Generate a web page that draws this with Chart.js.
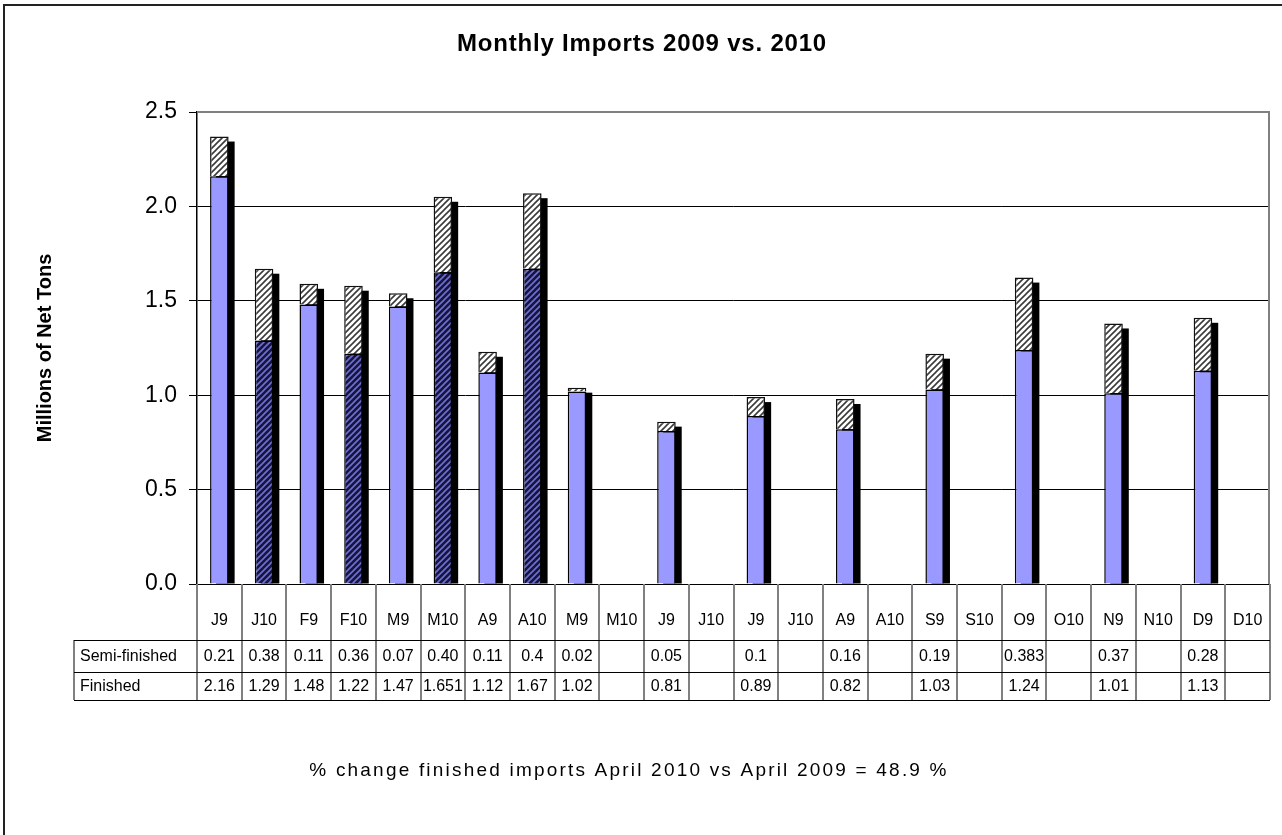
<!DOCTYPE html>
<html>
<head>
<meta charset="utf-8">
<script src="https://cdn.jsdelivr.net/npm/chart.js@4.4.0/dist/chart.umd.min.js"></script>
<style>
html, body { margin: 0; padding: 0; background: #fff; }
canvas { display: block; }
</style>
</head>
<body>
<canvas id="chart" width="1282" height="835"></canvas>
<script>
// chart data
var categories = ['J9', 'J10', 'F9', 'F10', 'M9', 'M10', 'A9', 'A10', 'M9', 'M10', 'J9', 'J10',
                  'J9', 'J10', 'A9', 'A10', 'S9', 'S10', 'O9', 'O10', 'N9', 'N10', 'D9', 'D10'];
var semiFinished = [0.21, 0.38, 0.11, 0.36, 0.07, 0.40, 0.11, 0.4, 0.02, null, 0.05, null,
                    0.1, null, 0.16, null, 0.19, null, 0.383, null, 0.37, null, 0.28, null];
var finished = [2.16, 1.29, 1.48, 1.22, 1.47, 1.651, 1.12, 1.67, 1.02, null, 0.81, null,
                0.89, null, 0.82, null, 1.03, null, 1.24, null, 1.01, null, 1.13, null];
var semiText = ['0.21', '0.38', '0.11', '0.36', '0.07', '0.40', '0.11', '0.4', '0.02', '', '0.05', '',
                '0.1', '', '0.16', '', '0.19', '', '0.383', '', '0.37', '', '0.28', ''];
var finishedText = ['2.16', '1.29', '1.48', '1.22', '1.47', '1.651', '1.12', '1.67', '1.02', '', '0.81', '',
                    '0.89', '', '0.82', '', '1.03', '', '1.24', '', '1.01', '', '1.13', ''];
var rowNames = ['Semi-finished', 'Finished'];
var chartTitle = 'Monthly Imports 2009 vs. 2010';
var yTitle = 'Millions of Net Tons';
var note = '% change finished imports April 2010 vs April 2009 = 48.9 %';

var FONT = "'Liberation Sans', Arial, sans-serif";

function hatch(bg, fg, size){
	var c = document.createElement('canvas');
	c.width = size; c.height = size;
	var g = c.getContext('2d');
	g.fillStyle = bg;
	g.fillRect(0, 0, size, size);
	g.strokeStyle = fg;
	g.lineWidth = 1.6;
	g.beginPath();
	g.moveTo(0, size); g.lineTo(size, 0);
	g.moveTo(-size / 2, size / 2); g.lineTo(size / 2, -size / 2);
	g.moveTo(size / 2, size * 1.5); g.lineTo(size * 1.5, size / 2);
	g.stroke();
	return g.createPattern(c, 'repeat');
}

var semiPattern = hatch('#ffffff', '#3a3a3a', 6);
var darkPattern = hatch('#16163c', '#7070d4', 6);

var finishedColors = finished.map(function(v, i){
	return i % 2 === 0 ? '#9999ff' : darkPattern;
});

// black drop shadow behind each stacked column, and the table/frame decorations
var decor = {
	id: 'decor',
	beforeDraw: function(chart){
		var ctx = chart.ctx;
		ctx.save();
		ctx.fillStyle = '#fff';
		ctx.fillRect(0, 0, chart.width, chart.height);
		ctx.strokeStyle = '#222';
		ctx.lineWidth = 2;
		ctx.beginPath();
		ctx.moveTo(4, chart.height + 2);
		ctx.lineTo(4, 5);
		ctx.lineTo(chart.width + 2, 5);
		ctx.stroke();
		ctx.restore();
	},
	beforeDatasetsDraw: function(chart){
		var ctx = chart.ctx, area = chart.chartArea;
		var m0 = chart.getDatasetMeta(0), m1 = chart.getDatasetMeta(1);
		ctx.save();
		ctx.beginPath();
		ctx.rect(area.left, area.top, area.right - area.left, area.bottom - area.top);
		ctx.clip();
		ctx.fillStyle = '#000';
		for(var i = 0; i < categories.length; i++){
			if(finished[i] == null){ continue; }
			var e0 = m0.data[i];
			var top = semiFinished[i] != null ? m1.data[i].y : e0.y;
			var w = e0.width;
			ctx.fillRect(e0.x - w / 2 + 6, top + 5, w, e0.base - top - 5);
		}
		ctx.restore();
	},
	afterDraw: function(chart){
		var ctx = chart.ctx, area = chart.chartArea, x = chart.scales.x;
		var step = x.getPixelForValue(1) - x.getPixelForValue(0);
		var rowTop = [640, 672, 700];
		var labelLeft = 74;
		ctx.save();

		// plot area frame (top / right)
		ctx.strokeStyle = '#808080';
		ctx.lineWidth = 2;
		ctx.beginPath();
		ctx.moveTo(area.left, area.top);
		ctx.lineTo(area.right - 1, area.top);
		ctx.lineTo(area.right - 1, area.bottom);
		ctx.stroke();

		// table vertical lines
		ctx.strokeStyle = '#808080';
		ctx.lineWidth = 2;
		ctx.beginPath();
		for(var i = 0; i <= categories.length; i++){
			var bx = Math.round(x.getPixelForValue(i) - step / 2);
			ctx.moveTo(bx, area.bottom);
			ctx.lineTo(bx, rowTop[2]);
		}
		ctx.moveTo(labelLeft, rowTop[0]);
		ctx.lineTo(labelLeft, rowTop[2]);
		ctx.stroke();

		// table horizontal lines
		ctx.strokeStyle = '#000';
		ctx.lineWidth = 1;
		ctx.beginPath();
		for(var r = 0; r < rowTop.length; r++){
			ctx.moveTo(labelLeft, rowTop[r] + 0.5);
			ctx.lineTo(area.right, rowTop[r] + 0.5);
		}
		ctx.stroke();

		// table text
		ctx.fillStyle = '#000';
		ctx.font = '16px ' + FONT;
		ctx.textBaseline = 'middle';
		ctx.textAlign = 'left';
		ctx.fillText(rowNames[0], labelLeft + 6, (rowTop[0] + rowTop[1]) / 2 + 1);
		ctx.fillText(rowNames[1], labelLeft + 6, (rowTop[1] + rowTop[2]) / 2 + 1);
		ctx.textAlign = 'center';
		for(var j = 0; j < categories.length; j++){
			var cx = x.getPixelForValue(j);
			ctx.fillText(semiText[j], cx, (rowTop[0] + rowTop[1]) / 2 + 1);
			ctx.fillText(finishedText[j], cx, (rowTop[1] + rowTop[2]) / 2 + 1);
		}

		// titles
		ctx.font = 'bold 24px ' + FONT;
		ctx.letterSpacing = '0.8px';
		ctx.fillText(chartTitle, 642, 44);
		ctx.font = '19px ' + FONT;
		ctx.letterSpacing = '2.2px';
		ctx.fillText(note, 629, 771);
		ctx.letterSpacing = '0px';
		ctx.translate(45, 348);
		ctx.rotate(-Math.PI / 2);
		ctx.font = 'bold 20px ' + FONT;
		ctx.fillText(yTitle, 0, 0);
		ctx.restore();
	}
};

new Chart(document.getElementById('chart'), {
	type: 'bar',
	data: {
		labels: categories,
		datasets: [
			{
				label: rowNames[1],
				data: finished,
				backgroundColor: finishedColors,
				borderColor: '#000',
				borderWidth: 1.5
			},
			{
				label: rowNames[0],
				data: semiFinished,
				backgroundColor: semiPattern,
				borderColor: '#111',
				borderWidth: 1.5
			}
		]
	},
	options: {
		responsive: false,
		animation: false,
		devicePixelRatio: 1,
		layout: { padding: { top: 112, left: 0, right: 12, bottom: 195 } },
		datasets: { bar: { categoryPercentage: 1, barPercentage: 0.415 } },
		plugins: {
			legend: { display: false },
			tooltip: { enabled: false }
		},
		scales: {
			x: {
				stacked: true,
				grid: { display: false },
				border: { display: false },
				ticks: {
					color: '#000',
					font: { family: FONT, size: 16 },
					padding: 19,
					maxRotation: 0,
					autoSkip: false
				},
				afterFit: function(scale){ scale.height = 56; }
			},
			y: {
				stacked: true,
				min: 0,
				max: 2.5,
				border: { display: true, color: '#000', width: 1.5 },
				grid: {
					color: function(c){ return c.tick && c.tick.value === 2.5 ? '#808080' : '#000'; },
					lineWidth: 1,
					drawTicks: true,
					tickLength: 8,
					tickColor: '#000'
				},
				ticks: {
					stepSize: 0.5,
					color: '#000',
					font: { family: FONT, size: 23 },
					padding: 12,
					callback: function(v){ return v.toFixed(1); }
				},
				afterFit: function(scale){ scale.width = 197; }
			}
		}
	},
	plugins: [decor]
});
</script>
</body>
</html>
